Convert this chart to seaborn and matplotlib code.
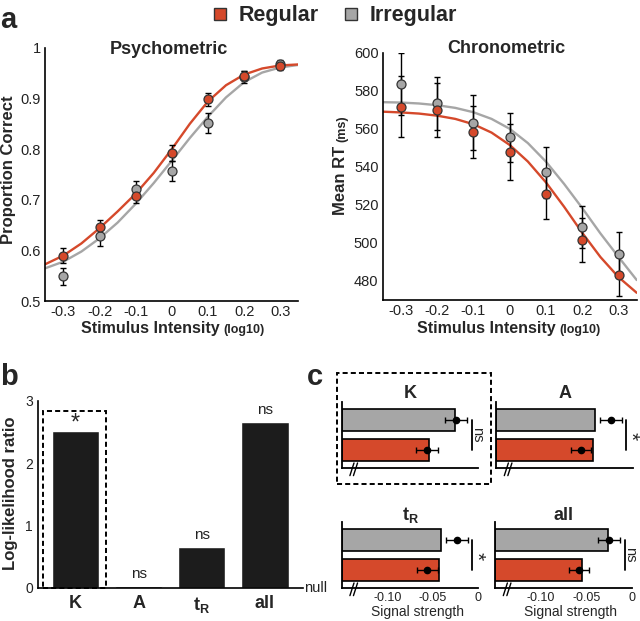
"""
Regular vs irregular: psychometric / chronometric fits, model comparison
and signal-strength estimates per parameter.
"""

import numpy as np
import pandas as pd
import seaborn as sns
import matplotlib.pyplot as plt
from matplotlib.lines import Line2D
from matplotlib.patches import Rectangle

sns.set_theme(style='white')
plt.rcParams['font.family'] = ['Liberation Sans', 'DejaVu Sans']
plt.rcParams['mathtext.fontset'] = 'custom'
plt.rcParams['mathtext.bf'] = 'Liberation Sans:bold'
plt.rcParams['mathtext.rm'] = 'Liberation Sans'
plt.rcParams['axes.unicode_minus'] = False

RED = '#D5492B'
GRAY = '#A6A6A6'
EDGE = '#333333'
TICK = '#222222'

# ---- panel a: data points ----
intensity = [-0.3, -0.2, -0.1, 0.0, 0.1, 0.2, 0.3]
pc_regular = [0.590, 0.646, 0.708, 0.793, 0.898, 0.945, 0.964]
pc_regular_err = [0.014, 0.015, 0.015, 0.016, 0.013, 0.009, 0.008]
pc_irregular = [0.549, 0.629, 0.721, 0.757, 0.852, 0.943, 0.968]
pc_irregular_err = [0.017, 0.020, 0.017, 0.019, 0.020, 0.012, 0.008]

rt_regular = [571.6, 569.9, 558.2, 548.0, 525.7, 501.7, 483.2]
rt_regular_err = [16.0, 14.0, 13.7, 14.7, 13.3, 11.5, 11.0]
rt_irregular = [583.5, 573.4, 563.2, 555.5, 537.1, 508.4, 494.3]
rt_irregular_err = [16.5, 14.0, 14.5, 13.0, 13.5, 11.0, 11.5]

# fitted curves, every 0.05 log units
curve_x = [-0.35, -0.30, -0.25, -0.20, -0.15, -0.10, -0.05, 0.0,
           0.05, 0.10, 0.15, 0.20, 0.25, 0.30, 0.35]
pc_fit_regular = [0.573, 0.590, 0.614, 0.644, 0.677, 0.712, 0.753, 0.800,
                  0.850, 0.894, 0.926, 0.947, 0.959, 0.965, 0.967]
pc_fit_irregular = [0.565, 0.578, 0.598, 0.624, 0.655, 0.692, 0.733, 0.777,
                    0.822, 0.864, 0.902, 0.932, 0.951, 0.961, 0.966]
rt_fit_regular = [569.0, 568.6, 568.0, 566.9, 565.2, 562.4, 558.0, 551.5,
                  542.8, 531.8, 519.0, 505.3, 492.6, 482.0, 473.8]
rt_fit_irregular = [574.0, 573.8, 573.3, 572.4, 571.0, 568.7, 565.2, 560.0,
                    552.5, 542.7, 531.0, 518.3, 505.0, 492.6, 480.5]

# ---- panel b ----
llr_params = ['K', 'A', 'tR', 'all']
llr_labels = ['K', 'A', r'$\mathbf{t_R}$', 'all']
llr_values = [2.51, 0.03, 0.656, 2.656]
llr_marks = ['*', 'ns', 'ns', 'ns']

# ---- panel c ----
c_titles = ['K', 'A', r'$\mathbf{t_R}$', 'all']
bar_regular = [-0.0545, -0.0434, -0.0432, -0.0551]
bar_irregular = [-0.0255, -0.0410, -0.0410, -0.0264]
dot_regular = [-0.0567, -0.0570, -0.0560, -0.0577]
dot_regular_err = [0.0118, 0.0110, 0.0115, 0.0112]
dot_irregular = [-0.0247, -0.0239, -0.0237, -0.0250]
dot_irregular_err = [0.0120, 0.0124, 0.0120, 0.0125]
c_marks = ['ns', '*', '*', 'ns']
signal_ticks = [-0.10, -0.075, -0.05, -0.025, 0.0]
signal_ticklabels = ['-0.10', '', '-0.05', '', '0']

W, H = 640, 621


def px_axes(left, top, right, bottom):
    """Axes rectangle from pixel edges of the 640x621 canvas."""
    return [left / W, 1 - bottom / H, (right - left) / W, (bottom - top) / H]


def style_axis(ax, lw=1.2):
    for side in ['top', 'right']:
        ax.spines[side].set_visible(False)
    for side in ['left', 'bottom']:
        ax.spines[side].set_color('black')
        ax.spines[side].set_linewidth(lw)


def curve_panel(ax, fit_reg, fit_irr, y_reg, e_reg, y_irr, e_irr):
    n = len(curve_x)
    df = pd.DataFrame({'x': curve_x * 2,
                       'y': fit_irr + fit_reg,
                       'group': ['Irregular'] * n + ['Regular'] * n})
    sns.lineplot(data=df, x='x', y='y', hue='group', sort=False,
                 palette={'Irregular': GRAY, 'Regular': RED},
                 linewidth=1.7, legend=False, ax=ax)
    for y, e, c in [(y_irr, e_irr, GRAY), (y_reg, e_reg, RED)]:
        ax.errorbar(intensity, y, yerr=e, fmt='none', ecolor='black',
                    elinewidth=1, capsize=2.5, capthick=1, zorder=3)
        ax.scatter(intensity, y, s=42, color=c, edgecolor=EDGE,
                   linewidth=0.9, zorder=4)
    ax.set_xlim(-0.35, 0.35)
    ax.set_xticks(intensity)
    ax.set_xticklabels([f'{v:g}' for v in intensity])
    ax.set_xlabel('Stimulus Intensity', fontsize=11.5, fontweight='bold')
    ax.annotate('(log10)', xy=(1, 0), xycoords=ax.xaxis.label,
                xytext=(3, 0), textcoords='offset points',
                ha='left', va='bottom', fontsize=9, fontweight='bold')
    ax.tick_params(direction='in', length=3, width=1, labelsize=10.5,
                   labelcolor=TICK, pad=3)
    style_axis(ax)


fig = plt.figure(figsize=(6.4, 6.21), dpi=100)

# ---- a: psychometric ----
ax_p = fig.add_axes(px_axes(45.3, 47.7, 298.3, 301.2))
curve_panel(ax_p, pc_fit_regular, pc_fit_irregular,
            pc_regular, pc_regular_err, pc_irregular, pc_irregular_err)
ax_p.set_ylim(0.5, 1.0)
pc_ticks = [0.5, 0.6, 0.7, 0.8, 0.9, 1.0]
ax_p.set_yticks(pc_ticks)
ax_p.set_yticklabels([f'{v:g}' for v in pc_ticks])
ax_p.set_ylabel('Proportion Correct', fontsize=12, fontweight='bold')
ax_p.yaxis.set_label_coords(-0.116, 0.518)
ax_p.xaxis.set_label_coords(0.415, -0.078)
ax_p.text(0.49, 0.975, 'Psychometric', transform=ax_p.transAxes,
          ha='center', va='baseline', fontsize=13, fontweight='bold')

# ---- a: chronometric ----
ax_c = fig.add_axes(px_axes(382.7, 52.7, 636.7, 300.0))
curve_panel(ax_c, rt_fit_regular, rt_fit_irregular,
            rt_regular, rt_regular_err, rt_irregular, rt_irregular_err)
ax_c.set_ylim(470, 600)
ax_c.set_yticks([480, 500, 520, 540, 560, 580, 600])
ax_c.set_ylabel('Mean RT', fontsize=12, fontweight='bold')
ax_c.yaxis.set_label_coords(-0.135, 0.482)
ax_c.annotate('(ms)', xy=(1, 1), xycoords=ax_c.yaxis.label,
              xytext=(0, 3), textcoords='offset points', rotation=90,
              rotation_mode='anchor', ha='left', va='bottom',
              fontsize=9, fontweight='bold')
ax_c.xaxis.set_label_coords(0.406, -0.086)
ax_c.text(0.488, 0.998, 'Chronometric', transform=ax_c.transAxes,
          ha='center', va='baseline', fontsize=13, fontweight='bold')

# ---- b: log-likelihood ratio ----
ax_b = fig.add_axes(px_axes(37.7, 400.7, 302.7, 587.7))
df_b = pd.DataFrame({'param': llr_params, 'llr': llr_values})
sns.barplot(data=df_b, x='param', y='llr', color='#1C1C1C', saturation=1,
            width=0.75, ax=ax_b)
ax_b.set_xlim(-0.6, 3.6)
ax_b.set_ylim(0, 3)
ax_b.set_yticks([0, 1, 2, 3])
ax_b.set_xticks(range(len(llr_labels)))
ax_b.set_xticklabels(llr_labels, fontsize=13, fontweight='bold')
ax_b.tick_params(axis='x', length=0, pad=5)
ax_b.tick_params(axis='y', direction='in', length=3, width=1,
                 labelsize=10, labelcolor=TICK)
ax_b.set_xlabel('')
ax_b.set_ylabel('Log-likelihood ratio', fontsize=12, fontweight='bold')
ax_b.yaxis.set_label_coords(-0.076, 0.505)
style_axis(ax_b)
for i, (v, m) in enumerate(zip(llr_values, llr_marks)):
    if m == '*':
        ax_b.text(i, v - 0.06, m, ha='center', va='bottom', fontsize=17)
    else:
        ax_b.text(i, v + 0.08, m, ha='center', va='bottom', fontsize=11,
                  color=TICK)
ax_b.text(3.62, 0, 'null', ha='left', va='center', fontsize=10.5,
          color=TICK)
ax_b.add_patch(Rectangle((-0.52, 0), 1.01, 2.84, fill=False,
                         edgecolor='black', linewidth=1.4,
                         linestyle=(0, (2.6, 1.6)), clip_on=False,
                         zorder=1))

# ---- c: signal strength per parameter ----
c_boxes = [px_axes(342.0, 401.7, 478.3, 468.3),
           px_axes(496.4, 401.7, 632.7, 468.3),
           px_axes(342.0, 521.7, 478.3, 588.3),
           px_axes(495.4, 521.7, 631.7, 588.3)]
XMIN = -0.15
for k, box in enumerate(c_boxes):
    ax = fig.add_axes(box)
    ax.barh([1, 0], [bar_irregular[k] - XMIN, bar_regular[k] - XMIN],
            left=XMIN, height=0.74, color=[GRAY, RED],
            edgecolor='black', linewidth=1.2)
    ax.errorbar([dot_irregular[k], dot_regular[k]], [1, 0],
                xerr=[dot_irregular_err[k], dot_regular_err[k]],
                fmt='o', color='black', markersize=4.5, elinewidth=1,
                capsize=2.5, capthick=1, zorder=4)
    ax.plot([-0.0073, -0.0073], [1, 0], color='black', lw=1.3)
    if c_marks[k] == 'ns':
        ax.text(-0.0015, 0.5, 'ns', rotation=-90, ha='center', va='center',
                fontsize=10.5)
    else:
        ax.text(-0.0025, 0.45, '*', rotation=-90, ha='center', va='center',
                fontsize=15)
    ax.set_xlim(XMIN, 0)
    ax.set_ylim(-0.6, 1.6)
    ax.set_yticks([])
    ax.set_xticks(signal_ticks)
    if k >= 2:
        ax.set_xticklabels(signal_ticklabels)
        ax.set_xlabel('Signal strength', fontsize=10)
        ax.xaxis.set_label_coords(0.554, -0.245)
    else:
        ax.set_xticklabels([''] * len(signal_ticks))
    ax.tick_params(axis='x', direction='in', length=3, width=1,
                   labelsize=9, labelcolor=TICK, pad=2.5)
    style_axis(ax, lw=1.3)
    ax.set_title(c_titles[k], fontsize=13, fontweight='bold', pad=1.5)
    # axis break marks
    for j in (0, 1):
        ax.plot([0.058 + j * 0.026, 0.088 + j * 0.026], [-0.11, 0.08],
                transform=ax.transAxes, color='black', lw=1,
                clip_on=False)

fig.add_artist(Rectangle((336.7 / W, 1 - 483.5 / H), (491 - 336.7) / W,
                         (483.5 - 373) / H, transform=fig.transFigure,
                         fill=False, edgecolor='black', linewidth=1.4,
                         linestyle=(0, (2.6, 1.6))))

# ---- legend and panel letters ----
handles = [Line2D([], [], marker='s', ls='', markersize=8.5,
                  markerfacecolor=c, markeredgecolor=EDGE,
                  markeredgewidth=1) for c in [RED, GRAY]]
fig.legend(handles, ['Regular', 'Irregular'], ncol=2, loc='upper center',
           bbox_to_anchor=(0.522, 1.012), frameon=False,
           prop={'weight': 'bold', 'size': 15.5}, handlelength=0.8,
           handletextpad=0.45, columnspacing=1.1, borderpad=0.1)

for letter, x, y in [('a', 0.0, 28), ('b', 0.0, 385), ('c', 307, 385)]:
    fig.text(x / W, 1 - y / H, letter, fontsize=21, fontweight='bold',
             ha='left', va='baseline')

fig.savefig('out.png', dpi=100)
